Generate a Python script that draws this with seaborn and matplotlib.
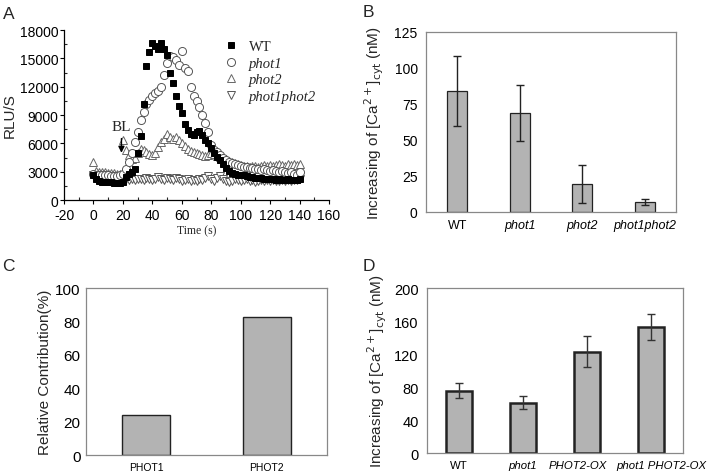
import numpy as np
import pandas as pd
import matplotlib
matplotlib.use("Agg")
import matplotlib.pyplot as plt
import matplotlib.transforms as mtrans
from matplotlib.ticker import MultipleLocator
import seaborn as sns

# ---------------- data ----------------
time_s = list(range(0, 141, 2))
wt = [2600, 2200, 2000, 1900, 1900, 1900, 1900, 1800, 1800, 1800,
      1900, 2400, 2800, 3000, 3300, 5000, 6800, 10200, 14200, 15700,
      16600, 16300, 16000, 16600, 16000, 15400, 13500, 12400, 11000, 10000,
      9200, 8000, 7400, 7000, 6900, 7200, 7300, 6900, 6400, 6000,
      5500, 5000, 4600, 4200, 3800, 3400, 3100, 2900, 2800, 2700,
      2600, 2600, 2500, 2400, 2400, 2300, 2300, 2300, 2200, 2200,
      2200, 2200, 2100, 2200, 2100, 2100, 2200, 2100, 2100, 2100, 2200]
phot1 = [2800, 2700, 2700, 2600, 2600, 2600, 2500, 2500, 2500, 2600,
         2800, 3300, 4000, 5000, 6100, 7200, 8500, 9300, 10200, 10600,
         11000, 11300, 11500, 12000, 13200, 14500, 15200, 15100, 14800, 14300,
         15800, 14000, 13700, 12000, 11000, 10500, 9800, 9000, 8200, 7200,
         5800, 5300, 5100, 4800, 4500, 4200, 4000, 3900, 3800, 3700,
         3600, 3500, 3500, 3400, 3400, 3300, 3300, 3200, 3300, 3200,
         3100, 3200, 3100, 3000, 3100, 3000, 2900, 3000, 2800, 2700, 3000]
phot2 = [4000, 3100, 3000, 3000, 3000, 2900, 2900, 2900, 2800, 2800,
         6400, 5300, 4800, 4300, 4500, 5000, 5400, 5300, 5100, 4900,
         4800, 5000, 5600, 6100, 6500, 7000, 6700, 6500, 6700, 6400,
         6000, 5700, 5400, 5200, 5100, 5000, 4900, 4800, 4700, 4800,
         5000, 4900, 4700, 4600, 4400, 4300, 4100, 4000, 3900, 3800,
         3700, 3600, 3600, 3500, 3600, 3600, 3500, 3600, 3700, 3600,
         3700, 3600, 3700, 3800, 3700, 3600, 3800, 3700, 3800, 3700, 3800]
phot1phot2 = [2600, 2300, 2200, 2200, 2100, 2200, 2100, 2000, 2100, 2000,
              2200, 2200, 2100, 2200, 2100, 2200, 2200, 2100, 2300, 2200,
              2100, 2200, 2400, 2200, 2100, 2300, 2200, 2100, 2300, 2200,
              2000, 2100, 2200, 2000, 2100, 2000, 2200, 2100, 2300, 2500,
              2200, 2000, 2300, 2500, 2200, 2000, 1900, 2000, 2200, 2100,
              2000, 2100, 2200, 2000, 2100, 1900, 2000, 2100, 2000, 2100,
              2000, 2100, 2000, 2000, 2100, 2000, 2100, 2000, 2100, 2100, 2200]
series_names = ["WT", "phot1", "phot2", "phot1phot2"]

b_categories = ["WT", "phot1", "phot2", "phot1phot2"]
b_values = [84, 69, 19.5, 7]
b_errors = [24, 19.5, 13, 2]

c_categories = ["PHOT1", "PHOT2"]
c_values = [24, 82.5]

d_categories = ["WT", "phot1", "PHOT2-OX", "phot1 PHOT2-OX"]
d_values = [75.5, 61, 123, 153]
d_errors = [9, 8, 19, 16]

# ---------------- style ----------------
sns.set_theme(style="white")
plt.rcParams["font.family"] = ["Liberation Sans", "DejaVu Sans"]
plt.rcParams["axes.unicode_minus"] = False
SERIF = ["Liberation Serif", "DejaVu Serif"]
BAR = "#b3b3b3"

fig = plt.figure(figsize=(7.09, 4.77), dpi=100)

# ---------------- panel A ----------------
axA = fig.add_axes([0.0903, 0.5786, 0.3738, 0.3564])
dfA = pd.DataFrame({"t": time_s, "WT": wt, "phot1": phot1,
                    "phot2": phot2, "phot1phot2": phot1phot2})
styles = {
    "WT": dict(marker="s", mfc="black", mec="black", ms=5),
    "phot1": dict(marker="o", mfc="white", mec="#555555", ms=5.8),
    "phot2": dict(marker="^", mfc="white", mec="#666666", ms=5.8),
    "phot1phot2": dict(marker="v", mfc="white", mec="#555555", ms=5.8),
}
order = ["phot1phot2", "phot2", "phot1", "WT"]
handles = {}
for name in order:
    st = styles[name]
    h, = axA.plot(dfA["t"], dfA[name], linestyle="none", marker=st["marker"],
                  markerfacecolor=st["mfc"], markeredgecolor=st["mec"],
                  markersize=st["ms"], markeredgewidth=0.7, label=name)
    handles[name] = h
axA.set_xlim(-20, 160)
axA.set_ylim(0, 18000)
axA.xaxis.set_major_locator(MultipleLocator(20))
axA.xaxis.set_minor_locator(MultipleLocator(10))
axA.yaxis.set_major_locator(MultipleLocator(3000))
axA.yaxis.set_minor_locator(MultipleLocator(1500))
for s in ["top", "right"]:
    axA.spines[s].set_visible(False)
for s in ["left", "bottom"]:
    axA.spines[s].set_color("black")
    axA.spines[s].set_linewidth(0.9)
axA.tick_params(which="major", direction="out", length=3, width=0.8,
                labelsize=10, colors="black", left=True, bottom=True, pad=1)
axA.tick_params(axis="x", which="major", pad=2.5)
axA.tick_params(which="minor", direction="in", length=2.5, width=0.8,
                left=True, bottom=True)
axA.set_ylabel("RLU/S", fontsize=11, labelpad=2)
axA.set_xlabel("Time (s)", fontsize=8.5, family=SERIF, labelpad=2)
leg = axA.legend([handles[n] for n in series_names], series_names,
                 loc="upper right", bbox_to_anchor=(0.99, 1.0), frameon=False,
                 prop={"family": SERIF, "size": 10.5}, handletextpad=0.6,
                 labelspacing=0.22, handlelength=1.2, borderaxespad=0.3)
for i, txt in enumerate(leg.get_texts()):
    if i > 0:
        txt.set_style("italic")
axA.annotate("", xy=(19, 4700), xytext=(19, 6800),
             arrowprops=dict(arrowstyle="-|>", color="black", lw=1.0,
                             mutation_scale=9))
axA.text(19, 7100, "BL", ha="center", va="bottom", family=SERIF, fontsize=11)

# ---------------- bar panel helper ----------------
def bar_panel(rect, cats, vals, width, edge_lw, frame_color, errs=None,
              err_color="black"):
    ax = fig.add_axes(rect)
    df = pd.DataFrame({"cat": cats, "val": vals})
    sns.barplot(data=df, x="cat", y="val", ax=ax, color=BAR, width=width,
                edgecolor="#222222", linewidth=edge_lw, saturation=1,
                errorbar=None)
    if errs is not None:
        ax.errorbar(np.arange(len(cats)), vals, yerr=errs, fmt="none",
                    ecolor=err_color, elinewidth=1.0, capsize=3, capthick=1.0)
    for s in ax.spines.values():
        s.set_visible(True)
        s.set_color(frame_color)
        s.set_linewidth(0.9)
    ax.set_xlim(-0.5, len(cats) - 0.5)
    ax.set_xlabel("")
    ax.tick_params(length=0, colors="black")
    return ax

ylab_ca = r"Increasing of [Ca$^{2+}$]$_{\mathrm{cyt}}$ (nM)"

# ---------------- panel B ----------------
axB = bar_panel([0.6008, 0.5535, 0.3526, 0.3774], b_categories, b_values,
                0.32, 0.9, "#888888", b_errors, err_color="#222222")
axB.set_ylim(0, 125)
axB.yaxis.set_major_locator(MultipleLocator(25))
axB.tick_params(axis="y", labelsize=10, pad=6)
axB.tick_params(axis="x", labelsize=9, pad=5)
axB.set_ylabel(ylab_ca, fontsize=11, labelpad=6)
for i, lab in enumerate(axB.get_xticklabels()):
    if i > 0:
        lab.set_style("italic")

# ---------------- panel C ----------------
axC = bar_panel([0.1213, 0.0440, 0.3399, 0.3501], c_categories, c_values,
                0.4, 1.0, "#888888")
axC.set_ylim(0, 100)
axC.yaxis.set_major_locator(MultipleLocator(20))
axC.tick_params(axis="y", labelsize=11, pad=4)
axC.tick_params(axis="x", labelsize=7.5, pad=5)
axC.set_ylabel("Relative Contribution(%)", fontsize=11, labelpad=2)

# ---------------- panel D ----------------
axD = bar_panel([0.6023, 0.0482, 0.3611, 0.3459], d_categories, d_values,
                0.4, 1.8, "#888888", d_errors, err_color="#333333")
axD.set_ylim(0, 200)
axD.yaxis.set_major_locator(MultipleLocator(40))
axD.tick_params(axis="y", labelsize=10.5, pad=6)
axD.tick_params(axis="x", labelsize=8.2, pad=5)
axD.set_ylabel(ylab_ca, fontsize=11, labelpad=4)
shifts = [0, 0, -9, 10]
for i, lab in enumerate(axD.get_xticklabels()):
    if i > 0:
        lab.set_style("italic")
    if shifts[i]:
        lab.set_transform(lab.get_transform() +
                          mtrans.ScaledTranslation(shifts[i] / 100, 0,
                                                   fig.dpi_scale_trans))

# ---------------- panel letters ----------------
for x, y, letter in [(0.004, 0.985, "A"), (0.511, 0.99, "B"),
                     (0.003, 0.458, "C"), (0.511, 0.458, "D")]:
    fig.text(x, y, letter, fontsize=12.5, ha="left", va="top")

fig.savefig("out.png", dpi=100)
